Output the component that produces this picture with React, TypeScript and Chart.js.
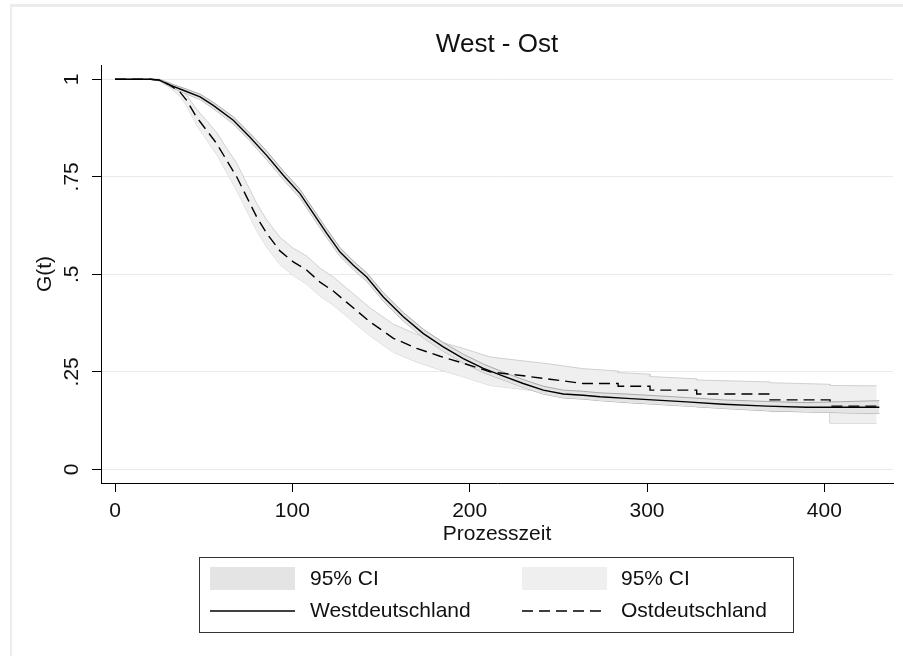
import React, { useEffect, useRef } from "react";
import { Chart, registerables } from "chart.js";

Chart.register(...registerables);

const chartTitle = "West - Ost";
const xTitle = "Prozesszeit";
const yTitle = "G(t)";
const xTicks = [0, 100, 200, 300, 400];
const yTicks = [0, 0.25, 0.5, 0.75, 1];
const yTickLabels = ["0", ".25", ".5", ".75", "1"];
const legendCI = "95% CI";
const westName = "Westdeutschland";
const ostName = "Ostdeutschland";

// Westdeutschland: Kaplan-Meier curve and 95% CI
const westT = [0, 20, 25, 31, 38.5, 48, 55.4, 66.7, 76, 85.5, 94.9, 104.3, 111.8, 119.4, 126.9, 134.4, 141.9, 151.3, 162.6, 173.9, 185.1, 196.4, 207.7, 219, 230.2, 241.5, 252.8, 264, 273.5, 288.5, 322.4, 343, 367.5, 390, 431];
const westG = [1, 1, 0.998, 0.985, 0.972, 0.955, 0.933, 0.895, 0.852, 0.805, 0.754, 0.707, 0.656, 0.605, 0.557, 0.523, 0.493, 0.442, 0.391, 0.348, 0.314, 0.284, 0.259, 0.239, 0.22, 0.203, 0.193, 0.19, 0.186, 0.182, 0.173, 0.167, 0.162, 0.159, 0.159];
const westHi = [1, 1, 1.0, 0.989, 0.978, 0.962, 0.941, 0.904, 0.862, 0.816, 0.765, 0.718, 0.667, 0.616, 0.568, 0.534, 0.504, 0.453, 0.402, 0.359, 0.325, 0.295, 0.27, 0.249, 0.23, 0.213, 0.203, 0.2, 0.196, 0.193, 0.184, 0.178, 0.174, 0.171, 0.176];
const westLo = [1, 1, 0.996, 0.981, 0.966, 0.948, 0.925, 0.886, 0.842, 0.794, 0.743, 0.696, 0.645, 0.594, 0.546, 0.512, 0.482, 0.431, 0.38, 0.337, 0.303, 0.273, 0.248, 0.229, 0.21, 0.193, 0.183, 0.18, 0.176, 0.171, 0.162, 0.156, 0.15, 0.147, 0.143];

// Ostdeutschland: Kaplan-Meier curve and 95% CI
const ostT = [0, 20, 25, 31, 36.7, 40.4, 46, 51.7, 57.4, 63, 68.6, 74.3, 79.9, 85.5, 93, 100.5, 108, 115.6, 123.1, 130.7, 143.8, 157, 170.1, 183.3, 196.4, 211.5, 226.5, 245.3, 264, 283.7, 283.7, 301.7, 301.7, 328, 328, 369.4, 369.4, 403.2, 403.2, 429.5];
const ostG = [1, 1, 0.998, 0.985, 0.967, 0.946, 0.903, 0.869, 0.835, 0.792, 0.75, 0.698, 0.647, 0.605, 0.56, 0.532, 0.511, 0.48, 0.457, 0.428, 0.378, 0.336, 0.31, 0.29, 0.272, 0.25, 0.242, 0.231, 0.22, 0.22, 0.213, 0.213, 0.203, 0.203, 0.193, 0.193, 0.178, 0.178, 0.162, 0.162];
const ostHi = [1, 1, 1.0, 0.991, 0.977, 0.96, 0.923, 0.894, 0.863, 0.823, 0.785, 0.733, 0.682, 0.64, 0.595, 0.567, 0.547, 0.516, 0.493, 0.464, 0.414, 0.372, 0.346, 0.327, 0.31, 0.288, 0.28, 0.27, 0.258, 0.252, 0.248, 0.244, 0.238, 0.232, 0.229, 0.224, 0.222, 0.218, 0.215, 0.214];
const ostLo = [1, 1, 0.996, 0.979, 0.957, 0.932, 0.883, 0.844, 0.807, 0.761, 0.715, 0.663, 0.612, 0.57, 0.525, 0.497, 0.475, 0.444, 0.421, 0.392, 0.342, 0.3, 0.275, 0.255, 0.237, 0.215, 0.207, 0.196, 0.186, 0.186, 0.18, 0.18, 0.17, 0.17, 0.16, 0.16, 0.148, 0.148, 0.118, 0.118];

const FONT = '"Liberation Sans", Arial, sans-serif';
const westFill = "#e4e4e4";
const westEdge = "#a9a9a9";
const ostFill = "#efefef";
const ostEdge = "#d0d0d0";
const DASH = [11, 6];

const pts = (t: number[], v: number[]) => t.map((x, i) => ({ x, y: v[i] }));

const textPlugin = {
  id: "stataText",
  afterDraw(chart: any) {
    const ctx = chart.ctx as CanvasRenderingContext2D;
    const xs = chart.scales.x;
    const ys = chart.scales.y;
    const a = chart.chartArea;
    const cx = (a.left + a.right) / 2;
    ctx.save();
    ctx.fillStyle = "#111";
    ctx.textAlign = "center";
    ctx.textBaseline = "middle";
    ctx.font = `26px ${FONT}`;
    ctx.fillText(chartTitle, cx, 45);
    ctx.font = `21px ${FONT}`;
    xTicks.forEach((v) => ctx.fillText(String(v), xs.getPixelForValue(v), 511));
    ctx.fillText(xTitle, cx, 534);
    yTicks.forEach((v, i) => {
      ctx.save();
      ctx.translate(72, ys.getPixelForValue(v));
      ctx.rotate(-Math.PI / 2);
      ctx.fillText(yTickLabels[i], 0, 0);
      ctx.restore();
    });
    ctx.save();
    ctx.translate(45, (a.top + a.bottom) / 2);
    ctx.rotate(-Math.PI / 2);
    ctx.fillText(yTitle, 0, 0);
    ctx.restore();

    // legend
    ctx.strokeStyle = "#333";
    ctx.lineWidth = 1;
    ctx.strokeRect(199.5, 557.5, 594, 75);
    ctx.fillStyle = westFill;
    ctx.fillRect(210, 567, 85, 23);
    ctx.fillStyle = ostFill;
    ctx.fillRect(522, 567, 85, 23);
    ctx.strokeStyle = "#000";
    ctx.lineWidth = 1.4;
    ctx.beginPath();
    ctx.moveTo(210, 611);
    ctx.lineTo(295, 611);
    ctx.stroke();
    ctx.setLineDash(DASH);
    ctx.beginPath();
    ctx.moveTo(522, 611);
    ctx.lineTo(607, 611);
    ctx.stroke();
    ctx.setLineDash([]);
    ctx.fillStyle = "#111";
    ctx.textAlign = "left";
    ctx.fillText(legendCI, 310, 579);
    ctx.fillText(legendCI, 621, 579);
    ctx.fillText(westName, 310, 611);
    ctx.fillText(ostName, 621, 611);
    ctx.restore();
  },
};

export default function App() {
  const ref = useRef<HTMLCanvasElement | null>(null);
  useEffect(() => {
    if (!ref.current) return;
    const chart = new Chart(ref.current, {
      type: "line",
      data: {
        datasets: [
          { label: "westLine", data: pts(westT, westG), borderColor: "#000", borderWidth: 1.4, pointRadius: 0, fill: false, order: 0 },
          { label: "ostLine", data: pts(ostT, ostG), borderColor: "#000", borderWidth: 1.4, borderDash: DASH, pointRadius: 0, fill: false, order: 1 },
          { label: "westHi", data: pts(westT, westHi), borderColor: westEdge, borderWidth: 1, pointRadius: 0, backgroundColor: westFill, fill: "+1", order: 2 },
          { label: "westLo", data: pts(westT, westLo), borderColor: westEdge, borderWidth: 1, pointRadius: 0, fill: false, order: 3 },
          { label: "ostHi", data: pts(ostT, ostHi), borderColor: ostEdge, borderWidth: 1, pointRadius: 0, backgroundColor: ostFill, fill: "+1", order: 4 },
          { label: "ostLo", data: pts(ostT, ostLo), borderColor: ostEdge, borderWidth: 1, pointRadius: 0, fill: false, order: 5 },
        ],
      },
      options: {
        animation: false,
        responsive: false,
        devicePixelRatio: 1,
        layout: { padding: { top: 65, right: 10, left: 0, bottom: 0 } },
        plugins: { legend: { display: false }, title: { display: false }, tooltip: { enabled: false } },
        elements: { line: { tension: 0 } },
        scales: {
          x: {
            type: "linear",
            min: -7.9,
            max: 438.7,
            afterFit: (s: any) => { s.height = 173; },
            afterBuildTicks: (s: any) => { s.ticks = xTicks.map((v) => ({ value: v })); },
            ticks: { display: false },
            grid: { drawOnChartArea: false, drawTicks: true, tickLength: 9, tickColor: "#000", tickWidth: 1 },
            border: { display: true, color: "#000", width: 1 },
          },
          y: {
            type: "linear",
            min: -0.0351,
            max: 1.0367,
            afterFit: (s: any) => { s.width = 101; },
            afterBuildTicks: (s: any) => { s.ticks = yTicks.map((v) => ({ value: v })); },
            ticks: { display: false },
            grid: { drawOnChartArea: true, color: "#eaeaea", lineWidth: 1, drawTicks: true, tickLength: 9, tickColor: "#000", tickWidth: 1 },
            border: { display: true, color: "#000", width: 1 },
          },
        },
      },
      plugins: [textPlugin],
    } as any);
    return () => chart.destroy();
  }, []);
  return (
    <div style={{ position: "fixed", left: 0, top: 0, width: 903, height: 656, background: "#fff" }}>
      <canvas ref={ref} width={903} height={656} style={{ position: "absolute", left: 0, top: 0, width: 903, height: 656 }} />
      <div style={{ position: "absolute", left: 10, top: 4, right: 0, bottom: 0, borderTop: "3px solid #ececec", borderLeft: "2px solid #ececec", pointerEvents: "none" }} />
    </div>
  );
}
